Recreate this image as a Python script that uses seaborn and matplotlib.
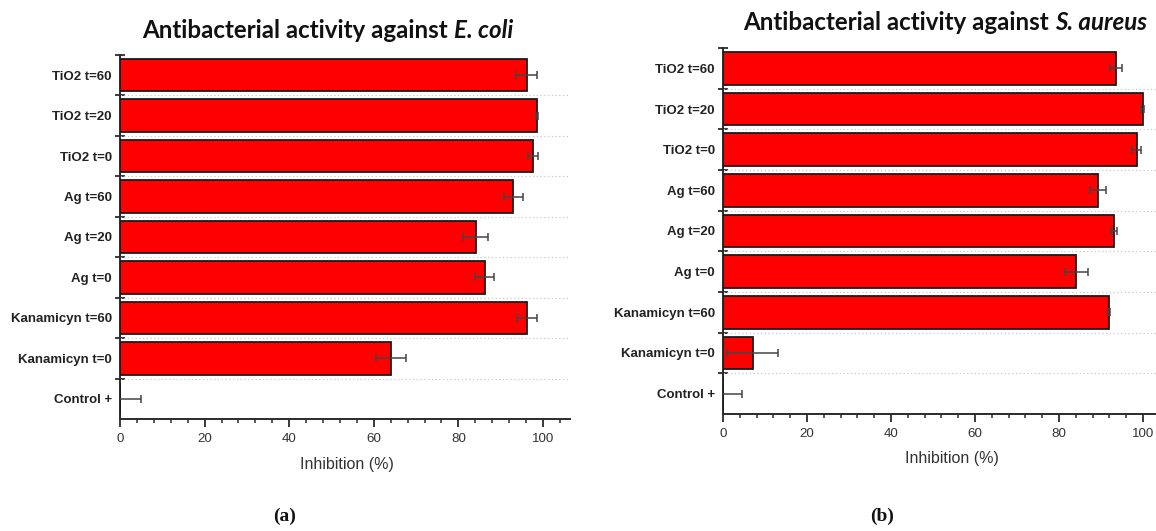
import matplotlib
matplotlib.use("Agg")
import matplotlib.pyplot as plt
from matplotlib.ticker import FixedLocator, MultipleLocator
import seaborn as sns
import pandas as pd
import numpy as np

# Treatment groups, listed top to bottom
categories = ["TiO2 t=60", "TiO2 t=20", "TiO2 t=0", "Ag t=60", "Ag t=20",
              "Ag t=0", "Kanamicyn t=60", "Kanamicyn t=0", "Control +"]

# Mean inhibition (%) and standard deviation against E. coli
ecoli_mean = [96.2, 98.6, 97.6, 93.0, 84.1, 86.2, 96.3, 64.1, 0.0]
ecoli_sd = [2.5, 0.3, 1.2, 2.3, 3.0, 2.2, 2.4, 3.6, 4.9]

# Mean inhibition (%) and standard deviation against S. aureus
saureus_mean = [93.5, 99.9, 98.5, 89.3, 93.1, 84.1, 91.9, 7.1, 0.0]
saureus_sd = [1.4, 0.3, 1.0, 1.9, 0.7, 2.75, 0.3, 6.1, 4.5]

x_ticks = [0, 20, 40, 60, 80, 100]

sns.set_style("white")
plt.rcParams["font.family"] = ["Liberation Sans", "DejaVu Sans"]

W, H = 1156, 531
fig = plt.figure(figsize=(W / 100, H / 100), dpi=100)


def px_axes(left, top, right, bottom):
    return fig.add_axes([left / W, 1 - bottom / H, (right - left) / W, (bottom - top) / H])


ax_a = px_axes(120, 55, 570, 419)
ax_b = px_axes(723, 48, 723 + 106.4 * 4.2, 414)

INK = "#2b2b2b"


def draw_panel(ax, means, sds):
    df = pd.DataFrame({"group": categories, "inhibition": means})
    sns.barplot(data=df, x="inhibition", y="group", orient="h", ax=ax,
                color="#ff0000", saturation=1, width=0.8, errorbar=None,
                edgecolor="#1a1a1a", linewidth=1.3, zorder=3)
    ax.errorbar(means, np.arange(len(categories)), xerr=sds, fmt="none",
                ecolor="#444444", elinewidth=1.1, capsize=3, capthick=1.1,
                zorder=4)
    ax.set_xlim(0, 106.4)
    ax.set_ylim(len(categories) - 0.5, -0.5)

    # category boundaries: dotted guides and short cross ticks
    bounds = np.arange(-0.5, len(categories) - 0.5, 1.0)
    ax.yaxis.set_minor_locator(FixedLocator(bounds))
    for b in bounds[1:]:
        ax.axhline(b, color="#c8c8c8", lw=0.9, ls=(0, (1, 2)), zorder=1)
    ax.tick_params(axis="y", which="both", left=True)
    ax.tick_params(axis="y", which="major", length=0, pad=6,
                   labelsize=9.5, labelcolor="#222222")
    ax.tick_params(axis="y", which="minor", length=7, width=1.3,
                   direction="inout", color=INK)
    for lab in ax.get_yticklabels():
        lab.set_fontweight("bold")

    ax.set_xticks(x_ticks)
    ax.xaxis.set_minor_locator(MultipleLocator(4))
    ax.tick_params(axis="x", which="both", bottom=True)
    ax.tick_params(axis="x", which="major", length=6, width=1.3,
                   direction="out", color=INK, labelsize=9.6,
                   labelcolor="#333333", pad=4)
    ax.tick_params(axis="x", which="minor", length=3, width=1.1,
                   direction="out", color=INK)
    ax.set_xlabel("")
    ax.set_ylabel("")
    for side in ("top", "right"):
        ax.spines[side].set_visible(False)
    for side in ("left", "bottom"):
        ax.spines[side].set_color(INK)
        ax.spines[side].set_linewidth(1.4)
    ax.grid(False)


draw_panel(ax_a, ecoli_mean, ecoli_sd)
draw_panel(ax_b, saureus_mean, saureus_sd)

# Axis titles below each panel
fig.text(347 / W, 1 - 465 / H, "Inhibition (%)", ha="center", va="center",
         fontsize=11.5, color="#333333")
fig.text(952 / W, 1 - 459 / H, "Inhibition (%)", ha="center", va="center",
         fontsize=11.5, color="#333333")

# Panel letters
for xc, letter in ((285, "a"), (882, "b")):
    fig.text(xc / W, 1 - 516 / H, f"({letter})", ha="center", va="center",
             fontsize=14, family=["Liberation Serif", "DejaVu Serif"],
             fontweight="bold", color="#111111")

# Titles: bold text followed by the italic species name
fig.canvas.draw()
renderer = fig.canvas.get_renderer()


def two_part_title(xc, yc, plain, species, size):
    kw = dict(fontsize=size, fontweight="bold", color="#111111",
              family=["Lato", "DejaVu Sans"], va="center")
    t1 = fig.text(0, 0, plain, ha="left", **kw)
    t2 = fig.text(0, 0, species, ha="left", style="italic", **kw)
    w1 = t1.get_window_extent(renderer).width
    w2 = t2.get_window_extent(renderer).width
    x0 = xc - (w1 + w2) / 2
    t1.set_position((x0 / W, 1 - yc / H))
    t2.set_position(((x0 + w1) / W, 1 - yc / H))


two_part_title(328, 31, "Antibacterial activity against ", "E. coli", 17.4)
two_part_title(945, 22, "Antibacterial activity against ", "S. aureus", 17.4)

fig.savefig("out.png", dpi=100)
